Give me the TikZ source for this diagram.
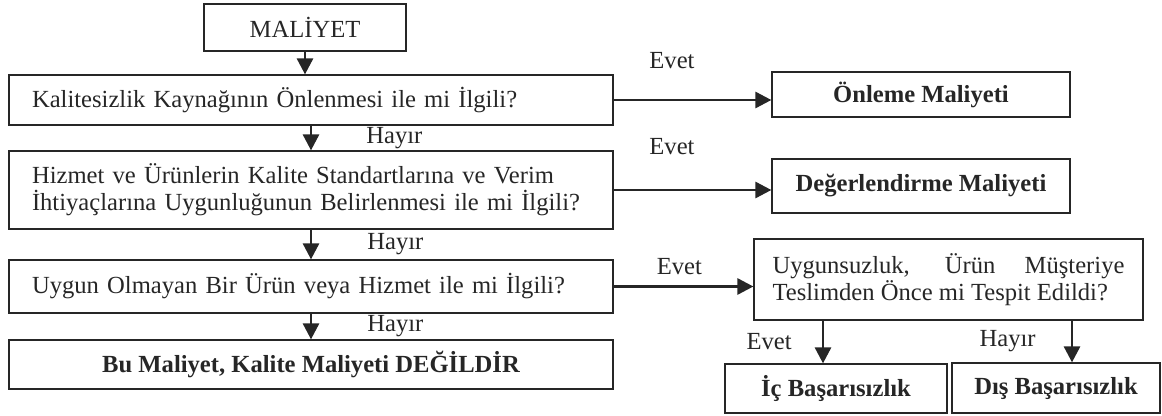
\documentclass[tikz,border=0pt]{standalone}
\usepackage{fontspec}
\setmainfont{Liberation Serif}
\usetikzlibrary{arrows.meta}
\usetikzlibrary{positioning}
\colorlet{ink}{black!85}
\newcommand\yazi{\fontsize{14}{15.5}\selectfont}

\begin{document}
\begin{tikzpicture}[
		block/.style={draw=ink, line width=0.7pt, inner sep=0pt, text=ink, font=\yazi},
		soru/.style={block, minimum width=12.08cm, text width=11.16cm, align=left},
		sonuc/.style={block, font=\yazi\bfseries},
		lbl/.style={inner sep=0pt, text=ink, font=\yazi},
		ok/.style={draw=ink, line width=1.6pt, -{Triangle[length=0.32cm, width=0.32cm]}},
	]
		\useasboundingbox (0,0) rectangle (23.24,-8.32);

		\node[block, minimum width=4.04cm, minimum height=0.94cm] (mal) at (6.10,-0.55) {MALİYET};
		\node[soru, minimum height=1.0cm] (k1) at (6.22,-2.0) {Kalitesizlik Kaynağının Önlenmesi ile mi İlgili?};
		\node[soru, minimum height=1.56cm] (k2) at (6.22,-3.8) {Hizmet ve Ürünlerin Kalite Standartlarına ve Verim\\ İhtiyaçlarına Uygunluğunun Belirlenmesi ile mi İlgili?};
		\node[soru, minimum height=1.06cm] (k3) at (6.22,-5.73) {Uygun Olmayan Bir Ürün veya Hizmet ile mi İlgili?};
		\node[sonuc, minimum width=12.08cm, minimum height=0.98cm] (deg) at (6.22,-7.29) {Bu Maliyet, Kalite Maliyeti DEĞİLDİR};

		\node[sonuc, minimum width=5.96cm, minimum height=0.9cm] (onl) at (18.42,-1.89) {Önleme Maliyeti};
		\node[sonuc, minimum width=5.96cm, minimum height=1.08cm] (dgr) at (18.42,-3.72) {Değerlendirme Maliyeti};
		\node[block, minimum width=7.78cm, text width=7.04cm, align=justify, minimum height=1.62cm] (uyg) at (18.97,-5.59) {Uygunsuzluk, Ürün Müşteriye\linebreak Teslimden Önce mi Tespit Edildi?};
		\node[sonuc, minimum width=4.44cm, minimum height=0.98cm] (ic) at (16.72,-7.77) {İç Başarısızlık};
		\node[sonuc, minimum width=4.16cm, minimum height=1.0cm] (dis) at (21.12,-7.76) {Dış Başarısızlık};

		\draw[ok] (mal.south) -- (mal.south|-k1.north);
		\draw[ok] (k1.south) -- node[lbl, right=1.08cm] {Hayır} (k1.south|-k2.north);
		\draw[ok] (k2.south) -- node[lbl, right=1.1cm] {Hayır} (k2.south|-k3.north);
		\draw[ok] (k3.south) -- node[lbl, right=1.1cm] {Hayır} (k3.south|-deg.north);

		\draw[ok] (k1.east) -- node[lbl, above=0.6cm, pos=0.37] {Evet} (k1.east-|onl.west);
		\draw[ok] (k2.east) -- node[lbl, above=0.68cm, pos=0.37] {Evet} (k2.east-|dgr.west);
		\draw[ok] (k3.east) -- node[lbl, above=0.2cm, pos=0.47] {Evet} (k3.east-|uyg.west);

		\begin{scope}[transform canvas={xshift=-0.26cm}]
			\draw[ok] (uyg.south-|ic.north) -- node[lbl, left=0.6cm] {Evet} (ic.north);
		\end{scope}
		\begin{scope}[transform canvas={xshift=0.32cm}]
			\draw[ok] (uyg.south-|dis.north) -- node[lbl, left=0.7cm] {Hayır} (dis.north);
		\end{scope}
	\end{tikzpicture}
\end{document}
